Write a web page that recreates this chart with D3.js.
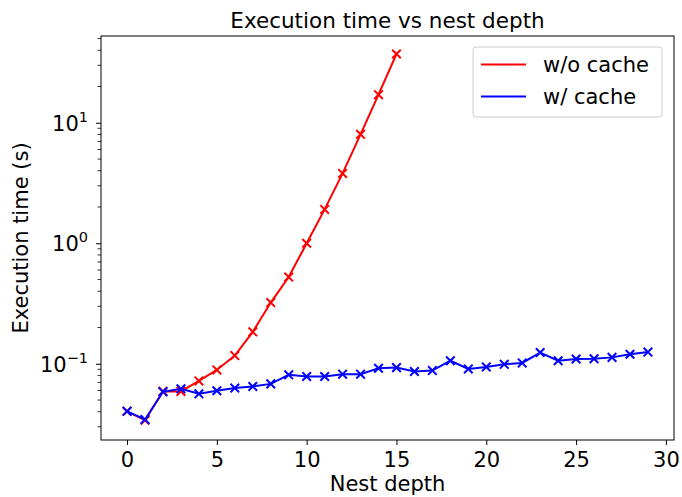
<!DOCTYPE html>
<html>
<head>
<meta charset="utf-8">
<script src="https://cdn.jsdelivr.net/npm/d3@7"></script>
<style>
  body { margin: 0; background: #fff; }
  text { font-family: "DejaVu Sans", sans-serif; fill: #000; }
</style>
</head>
<body>
<svg id="chart" width="682" height="497"></svg>
<script>
// data
var depthNoCache = [0, 1, 2, 3, 4, 5, 6, 7, 8, 9, 10, 11, 12, 13, 14, 15];
var timeNoCache = [0.0403, 0.0340, 0.059, 0.059, 0.0721, 0.0889, 0.117, 0.184, 0.322, 0.524, 1.0, 1.91, 3.80, 8.02, 17.1, 37.2];

var depthCache = d3.range(0, 30);
var timeCache = [0.0403, 0.0345, 0.0585, 0.062, 0.0563, 0.0597, 0.0628, 0.0648, 0.0681, 0.0809,
  0.0784, 0.0784, 0.0819, 0.082, 0.0918, 0.0929, 0.0863, 0.0878, 0.106, 0.0906,
  0.0941, 0.099, 0.1016, 0.124, 0.106, 0.1096, 0.110, 0.113, 0.120, 0.125];

var xTicks = [0, 5, 10, 15, 20, 25, 30];
var yTicks = [0.1, 1, 10];
var seriesNames = ["w/o cache", "w/ cache"];
var seriesColors = ["#ff0000", "#0000ff"];

var margin = { top: 36, right: 8, bottom: 57, left: 101 },
  width = 682 - margin.left - margin.right,
  height = 497 - margin.top - margin.bottom;

var svg = d3.select("#chart");
var g = svg.append("g")
  .attr("transform", "translate(" + margin.left + "," + margin.top + ")");

var x = d3.scaleLinear().domain([-1.45, 30.45]).range([0, width]);
var y = d3.scaleLog().domain([0.0233, 52.5]).range([height, 0]);

// minor ticks on the log axis
var minor = [];
[0.01, 0.1, 1, 10].forEach(function(dec) {
  for (var k = 2; k <= 9; k++) {
    var v = dec * k;
    if (v >= y.domain()[0] && v <= y.domain()[1]) minor.push(v);
  }
});

g.selectAll(".minor")
  .data(minor)
  .enter()
  .append("line")
  .attr("x1", -3.5).attr("x2", 0)
  .attr("y1", function(d) { return y(d); })
  .attr("y2", function(d) { return y(d); })
  .attr("stroke", "#000").attr("stroke-width", 0.8);

var yAxis = g.append("g")
  .call(d3.axisLeft(y).tickValues(yTicks).tickSize(5).tickFormat(function() { return ""; }));
yAxis.select(".domain").remove();
yAxis.selectAll(".tick line").attr("stroke-width", 1);

// superscript labels like 10^-1
g.selectAll(".ylabel")
  .data(yTicks)
  .enter()
  .append("text")
  .attr("x", -13)
  .attr("y", function(d) { return y(d) + 8; })
  .attr("text-anchor", "end")
  .style("font-size", "21px")
  .each(function(d) {
    var e = Math.round(Math.log10(d));
    var t = d3.select(this);
    t.append("tspan").text("10");
    t.append("tspan").attr("dy", -9).style("font-size", "14.5px")
      .text(e < 0 ? "\u2212" + (-e) : e);
  });

var xAxis = g.append("g")
  .attr("transform", "translate(0," + height + ")")
  .call(d3.axisBottom(x).tickValues(xTicks).tickSize(5).tickPadding(7));
xAxis.select(".domain").remove();
xAxis.selectAll("text").style("font-size", "21px").style("font-family", "DejaVu Sans");

// frame
g.append("rect")
  .attr("width", width).attr("height", height)
  .attr("fill", "none").attr("stroke", "#000").attr("stroke-width", 1);

var line = d3.line()
  .x(function(d) { return x(d[0]); })
  .y(function(d) { return y(d[1]); });

var series = [
  d3.zip(depthNoCache, timeNoCache),
  d3.zip(depthCache, timeCache)
];

series.forEach(function(s, i) {
  g.append("path")
    .datum(s)
    .attr("d", line)
    .attr("fill", "none")
    .attr("stroke", seriesColors[i])
    .attr("stroke-width", 2);

  g.selectAll(".mk" + i)
    .data(s)
    .enter()
    .append("path")
    .attr("transform", function(d) { return "translate(" + x(d[0]) + "," + y(d[1]) + ")"; })
    .attr("d", "M-4.3,-4.3L4.3,4.3M-4.3,4.3L4.3,-4.3")
    .attr("stroke", seriesColors[i])
    .attr("stroke-width", 2)
    .attr("fill", "none");
});

// legend
var legend = svg.append("g").attr("transform", "translate(473,47)");
legend.append("rect")
  .attr("width", 189).attr("height", 70).attr("rx", 3)
  .attr("fill", "#fff").attr("fill-opacity", 0.8)
  .attr("stroke", "#ccc").attr("stroke-width", 1);

seriesNames.forEach(function(name, i) {
  var yy = 17.5 + i * 32;
  legend.append("line")
    .attr("x1", 8).attr("x2", 53)
    .attr("y1", yy).attr("y2", yy)
    .attr("stroke", seriesColors[i]).attr("stroke-width", 2);
  legend.append("text")
    .attr("x", 70).attr("y", yy + 7.5)
    .style("font-size", "21px")
    .text(name);
});

// title and axis labels
svg.append("text")
  .attr("x", margin.left + width / 2).attr("y", 28)
  .attr("text-anchor", "middle")
  .style("font-size", "21.5px")
  .text("Execution time vs nest depth");

svg.append("text")
  .attr("x", margin.left + width / 2).attr("y", 491)
  .attr("text-anchor", "middle")
  .style("font-size", "21px")
  .text("Nest depth");

svg.append("text")
  .attr("transform", "translate(28," + (margin.top + height / 2) + ") rotate(-90)")
  .attr("text-anchor", "middle")
  .style("font-size", "21px")
  .text("Execution time (s)");
</script>
</body>
</html>
